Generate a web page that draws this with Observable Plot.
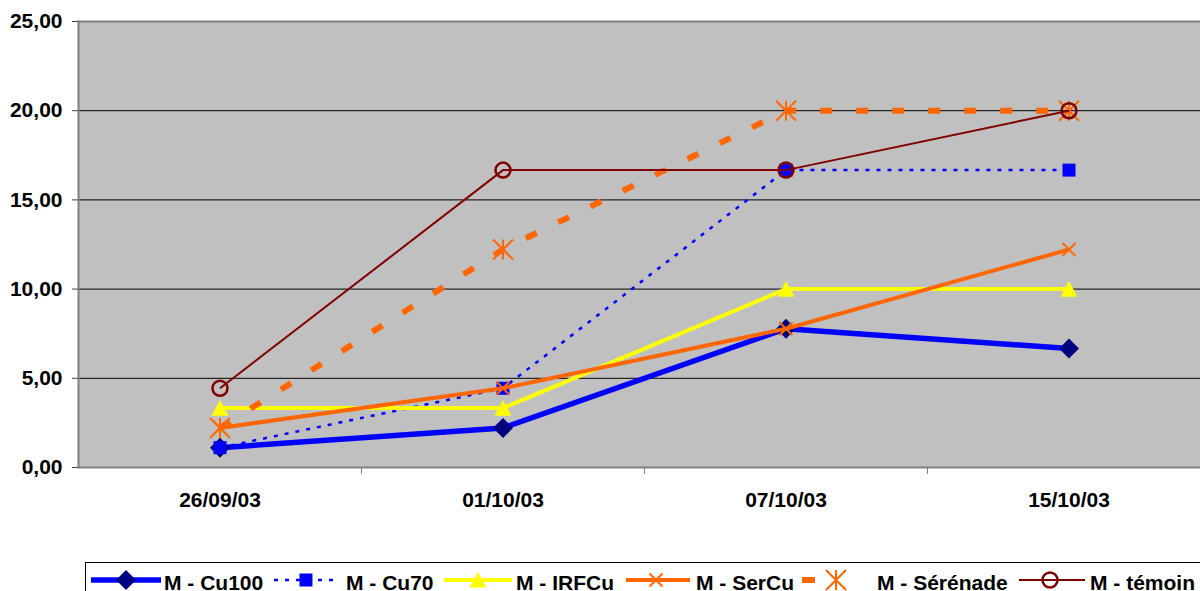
<!DOCTYPE html>
<html><head><meta charset="utf-8">
<script src="https://cdn.jsdelivr.net/npm/d3@7"></script>
<script src="https://cdn.jsdelivr.net/npm/@observablehq/plot@0.6"></script>
<style>
body{margin:0;overflow:hidden;background:#fff;width:1200px;height:591px;position:relative;font-family:"Liberation Sans",Arial,sans-serif;}
#chart{position:absolute;left:0;top:0;width:1210px;}
#chart svg{max-width:none !important;}
#legend{position:absolute;left:0;top:560px;}
</style></head><body>
<div id="chart"></div><div id="legend"></div>
<script>
// ---- data ----
const dates = ["26/09/03","01/10/03","07/10/03","15/10/03"];
const seriesNames = ["M - Cu100","M - Cu70","M - IRFCu","M - SerCu","M - Sérénade","M - témoin"];
const cu100    = [1.11, 2.22, 7.78, 6.67];
const cu70     = [1.11, 4.44, 16.67, 16.67];
const irfcu    = [3.33, 3.33, 10.00, 10.00];
const sercu    = [2.22, 4.44, 7.78, 12.22];
const serenade = [2.22, 12.22, 20.00, 20.00];
const temoin   = [4.44, 16.67, 16.67, 20.00];
const yTicks = [0, 5, 10, 15, 20, 25];

const valuesBySeries = [cu100, cu70, irfcu, sercu, serenade, temoin];
const rows = seriesNames.map((name, s) => dates.map((d, i) => ({series: name, i, date: d, v: valuesBySeries[s][i]})));

// ---- custom symbols ----
const rad = size => Math.sqrt(size / Math.PI);
const diamondSym = {draw(c, size){const r = rad(size); c.moveTo(0,-r); c.lineTo(r,0); c.lineTo(0,r); c.lineTo(-r,0); c.closePath();}};
const squareSym  = {draw(c, size){const r = rad(size); c.rect(-r,-r,2*r,2*r);}};
const triSym     = {draw(c, size){const r = rad(size); c.moveTo(0,-r); c.lineTo(1.06*r,0.95*r); c.lineTo(-1.06*r,0.95*r); c.closePath();}};
const timesSym   = {draw(c, size){const r = rad(size); c.moveTo(-r,-r); c.lineTo(r,r); c.moveTo(-r,r); c.lineTo(r,-r);}};
const asterSym   = {draw(c, size){const r = rad(size); c.moveTo(0,-r); c.lineTo(0,r); c.moveTo(-r,-r); c.lineTo(r,r); c.moveTo(-r,r); c.lineTo(r,-r);}};
const circleSym  = {draw(c, size){const r = rad(size); c.moveTo(r,0); c.arc(0,0,r,0,2*Math.PI);}};

const styles = [
  {stroke:"#0000FF", width:5.5, dash:null,   sym:diamondSym, r:10,  mfill:"#000080", mstroke:"none", msw:0},
  {stroke:"#0000FF", width:2.5, dash:"4,7",  sym:squareSym,  r:6.5, mfill:"#0000FF", mstroke:"none", msw:0},
  {stroke:"#FFFF00", width:4,   dash:null,   sym:triSym,     r:8,   mfill:"#FFFF00", mstroke:"none", msw:0},
  {stroke:"#FF6600", width:4,   dash:null,   sym:timesSym,   r:6.5, mfill:"none",    mstroke:"#FF6600", msw:2},
  {stroke:"#FF6600", width:6,   dash:"12,24",sym:asterSym,   r:10,  mfill:"none",    mstroke:"#FF6600", msw:2},
  {stroke:"#800000", width:2,   dash:null,   sym:circleSym,  r:7.5, mfill:"none",    mstroke:"#800000", msw:2.5}
];

const fmt = d => d.toFixed(2).replace(".", ",");

const seriesMarks = rows.flatMap((data, s) => {
  const st = styles[s];
  return [
    Plot.line(data, {x:"i", y:"v", stroke: st.stroke, strokeWidth: st.width, strokeDasharray: st.dash ?? undefined, strokeLinecap: "butt", strokeLinejoin:"round"}),
    Plot.dot(data, {x:"i", y:"v", symbol: st.sym, r: st.r, fill: st.mfill, stroke: st.mstroke, strokeWidth: st.msw})
  ];
});

const chart = Plot.plot({
  width: 1210,
  height: 545,
  marginLeft: 78,
  marginRight: 0,
  marginTop: 21,
  marginBottom: 78,
  style: {background: "transparent", fontFamily: "'Liberation Sans', Arial, sans-serif", overflow: "visible", maxWidth: "none"},
  x: {type: "linear", domain: [-0.5, 3.5], label: null},
  y: {domain: [0, 25], label: null},
  marks: [
    Plot.frame({fill: "#C0C0C0", stroke: "none"}),
    Plot.ruleY(yTicks.filter(t => t > 0 && t < 25), {stroke: "#000", strokeWidth: 1}),
    Plot.frame({stroke: "#808080", strokeWidth: 2}),
    Plot.axisY({ticks: yTicks, tickFormat: fmt, tickSize: 6, tickPadding: 10, fontSize: 21, fontWeight: "bold", fill: "#000", stroke: "#404040", label: null}),
    Plot.axisX({ticks: [0.5, 1.5, 2.5], tickSize: 7, tickFormat: () => "", stroke: "#808080", label: null}),
    Plot.axisX({ticks: [0, 1, 2, 3], tickSize: 0, tickPadding: 25, tickFormat: i => dates[i], fontSize: 21, fontWeight: "bold", fill: "#000", label: null}),
    ...seriesMarks
  ]
});
chart.style.maxWidth = "none";
document.getElementById("chart").appendChild(chart);

// ---- legend ----
const legendLayout = [
  {x1: 91,  x2: 161, m: 126,  t: 164},
  {x1: 274, x2: 338, m: 306,  t: 346},
  {x1: 444, x2: 512, m: 478,  t: 516},
  {x1: 626, x2: 690, m: 656,  t: 696},
  {x1: 802, x2: 815, m: 836,  t: 877},
  {x1: 1019,x2: 1085,m: 1050, t: 1090}
];
const lg = d3.select("#legend").append("svg").attr("width", 1200).attr("height", 31)
  .style("font-family", "'Liberation Sans', Arial, sans-serif");
lg.append("rect").attr("x", 85.5).attr("y", 2.5).attr("width", 1200).attr("height", 40)
  .attr("fill", "#fff").attr("stroke", "#000").attr("stroke-width", 1);
seriesNames.forEach((name, s) => {
  const st = styles[s], L = legendLayout[s];
  lg.append("line").attr("x1", L.x1).attr("x2", L.x2).attr("y1", 20).attr("y2", 20)
    .attr("stroke", st.stroke).attr("stroke-width", st.width)
    .attr("stroke-dasharray", s === 4 ? null : st.dash);
  lg.append("path").attr("d", d3.symbol(st.sym, Math.PI * st.r * st.r)())
    .attr("transform", `translate(${L.m},20)`)
    .attr("fill", st.mfill).attr("stroke", st.mstroke).attr("stroke-width", st.msw);
  lg.append("text").attr("x", L.t).attr("y", 30).attr("font-size", 21).attr("font-weight", "bold").text(name);
});
</script>
</body></html>
